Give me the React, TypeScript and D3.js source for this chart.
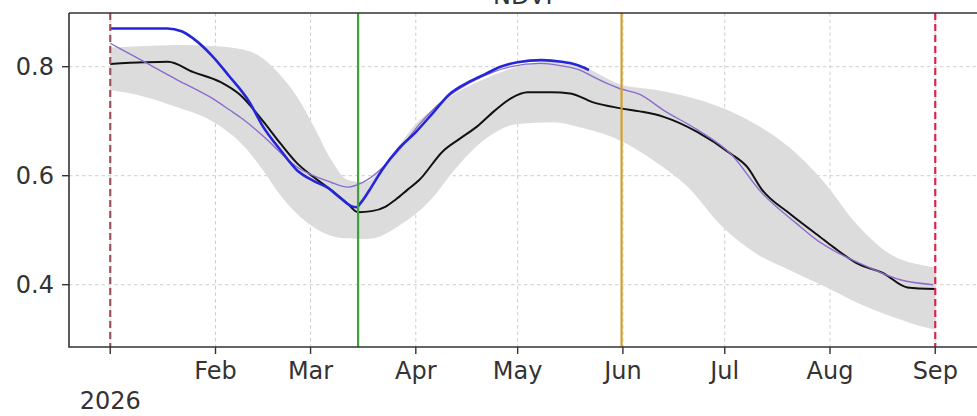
import React from "react";
import * as d3 from "d3";

// ---- data (days offset from 2026-01-01) ----
const bandDays = [0, 10, 20, 30, 40, 45, 50, 55, 60, 65, 70, 75, 80, 85, 90, 95, 100, 110, 120, 130, 140, 150, 160, 170, 180, 190, 200, 210, 220, 230, 240, 243];
const bandUpper = [0.835, 0.838, 0.84, 0.838, 0.83, 0.815, 0.785, 0.745, 0.69, 0.63, 0.592, 0.588, 0.615, 0.655, 0.695, 0.722, 0.745, 0.777, 0.8, 0.81, 0.798, 0.768, 0.758, 0.745, 0.725, 0.695, 0.652, 0.59, 0.51, 0.455, 0.435, 0.432];
const bandLower = [0.757, 0.745, 0.725, 0.7, 0.65, 0.61, 0.565, 0.53, 0.505, 0.49, 0.485, 0.484, 0.49, 0.508, 0.53, 0.56, 0.6, 0.665, 0.695, 0.698, 0.686, 0.665, 0.628, 0.58, 0.508, 0.458, 0.427, 0.398, 0.367, 0.342, 0.322, 0.318];

const medianDays = [0, 10, 17, 24.5, 32.4, 38.3, 45, 50, 55, 60, 65, 70, 73, 77, 81, 84, 87.5, 91, 98, 103, 108, 113, 118, 123, 130, 135.5, 142, 150, 156, 163, 173, 182.6, 187.6, 192, 200, 209, 213, 220, 227.7, 234.8, 243];
const medianVals = [0.805, 0.808, 0.809, 0.79, 0.772, 0.748, 0.7, 0.66, 0.623, 0.597, 0.574, 0.548, 0.533, 0.535, 0.543, 0.556, 0.574, 0.592, 0.645, 0.668, 0.69, 0.718, 0.742, 0.753, 0.753, 0.751, 0.735, 0.724, 0.718, 0.708, 0.68, 0.641, 0.616, 0.574, 0.531, 0.488, 0.469, 0.439, 0.421, 0.395, 0.392];

const fitDays = [0, 9.7, 19.7, 29.5, 35.3, 39, 45, 55, 65, 70, 74.5, 80.4, 85.4, 91.3, 98, 103, 108, 118, 126.7, 132.5, 139, 142, 150, 156, 163, 173, 182.6, 192, 202, 209, 213, 223, 232.7, 242.4];
const fitVals = [0.843, 0.81, 0.776, 0.744, 0.72, 0.704, 0.673, 0.616, 0.588, 0.579, 0.588, 0.616, 0.65, 0.696, 0.738, 0.76, 0.777, 0.8, 0.806, 0.802, 0.792, 0.782, 0.76, 0.749, 0.72, 0.684, 0.641, 0.568, 0.513, 0.478, 0.463, 0.433, 0.409, 0.4];

const obsDays = [0, 16.8, 21, 24.4, 30, 35, 41, 45, 50, 55, 60, 64, 68, 70.7, 72.5, 74, 77, 80, 85, 90, 95, 100, 105, 110, 115, 120, 127, 133, 137, 141];
const obsVals = [0.87, 0.87, 0.865, 0.852, 0.82, 0.783, 0.735, 0.69, 0.648, 0.61, 0.59, 0.578, 0.558, 0.545, 0.542, 0.552, 0.58, 0.61, 0.65, 0.68, 0.715, 0.75, 0.77, 0.785, 0.8, 0.808, 0.812, 0.809, 0.804, 0.794];

const yTicks = [0.4, 0.6, 0.8];
const monthLabels = ["", "Feb", "Mar", "Apr", "May", "Jun", "Jul", "Aug", "Sep"];
const yearLabel = "2026";
const title = "NDVI";

const markerDays = [0, 73, 150.6, 243];
const markerColors = ["#a0525c", "#3aa43a", "#d4a02c", "#d8284a"];
const markerDashed = [true, false, false, true];

const base = new Date(2026, 0, 1);
const toDate = (d: number) => new Date(base.getTime() + d * 86400000);

export default function App() {
  const W = 977, H = 416;
  const left = 69, right = 976.5, top = 13, bottom = 347;
  const x = d3.scaleTime()
    .domain([toDate(-12.15), toDate(255.15)])
    .range([left, right]);
  const y = d3.scaleLinear().domain([0.2857, 0.8985]).range([bottom, top]);

  const monthTicks = d3.range(0, 9).map((m) => new Date(2026, m, 1));

  const area = d3.area<number>()
    .x((_, i) => x(toDate(bandDays[i])))
    .y0((_, i) => y(bandLower[i]))
    .y1((_, i) => y(bandUpper[i]))
    .curve(d3.curveMonotoneX);

  const mk = (days: number[], vals: number[]) =>
    d3.line<number>()
      .x((_, i) => x(toDate(days[i])))
      .y((v) => y(v))
      .curve(d3.curveMonotoneX)(vals) || "";

  const font = "'DejaVu Sans', sans-serif";
  const textColor = "#333";
  const fs = 24;

  return (
    <svg width={W} height={H} style={{ position: "absolute", left: 0, top: 0, background: "#fff" }}>
      <defs>
        <clipPath id="plot">
          <rect x={left} y={top} width={right - left} height={bottom - top} />
        </clipPath>
      </defs>
      <text x={(left + right) / 2} y={4} textAnchor="middle" fontFamily={font} fontSize={fs} fill={textColor}>{title}</text>
      {/* grid */}
      {monthTicks.map((t, i) => (
        <line key={"gx" + i} x1={x(t)} x2={x(t)} y1={top} y2={bottom} stroke="#c8c8c8" strokeWidth={0.9} strokeDasharray="3.5,3" />
      ))}
      {yTicks.map((v, i) => (
        <line key={"gy" + i} x1={left} x2={right} y1={y(v)} y2={y(v)} stroke="#c8c8c8" strokeWidth={0.9} strokeDasharray="3.5,3" />
      ))}
      <g clipPath="url(#plot)">
        <path d={area(bandUpper) || ""} fill="#dcdcdc" />
        <path d={mk(medianDays, medianVals)} fill="none" stroke="#111" strokeWidth={2} />
        <path d={mk(fitDays, fitVals)} fill="none" stroke="#8a6ccc" strokeWidth={1.4} />
        <path d={mk(obsDays, obsVals)} fill="none" stroke="#2626d9" strokeWidth={2.6} />
        {markerDays.map((d, i) => (
          <line key={"m" + i} x1={x(toDate(d))} x2={x(toDate(d))} y1={top} y2={bottom}
            stroke={markerColors[i]} strokeWidth={2.2} strokeDasharray={markerDashed[i] ? "7,4" : undefined} />
        ))}
      </g>
      {/* spines */}
      <path d={`M${left},${top}H${right + 5}M${left},${top}V${bottom}H${right + 5}`} fill="none" stroke="#333" strokeWidth={1.6} />
      {/* y ticks */}
      {yTicks.map((v, i) => (
        <g key={"yt" + i}>
          <line x1={left - 7} x2={left} y1={y(v)} y2={y(v)} stroke="#333" strokeWidth={1.4} />
          <text x={left - 15} y={y(v) + 8.5} textAnchor="end" fontFamily={font} fontSize={fs} fill={textColor}>{d3.format(".1f")(v)}</text>
        </g>
      ))}
      {/* x ticks */}
      {monthTicks.map((t, i) => (
        <g key={"xt" + i}>
          <line x1={x(t)} x2={x(t)} y1={bottom} y2={bottom + 7} stroke="#333" strokeWidth={1.4} />
          <text x={x(t)} y={379} textAnchor="middle" fontFamily={font} fontSize={fs} fill={textColor}>{monthLabels[i]}</text>
        </g>
      ))}
      <text x={x(monthTicks[0])} y={409} textAnchor="middle" fontFamily={font} fontSize={fs} fill={textColor}>{yearLabel}</text>
    </svg>
  );
}
